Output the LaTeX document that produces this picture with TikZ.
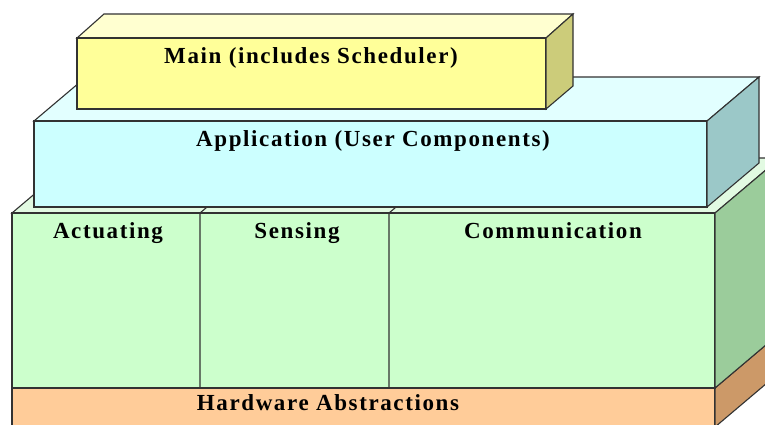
\documentclass[tikz,border=0pt]{standalone}
\usepackage{fontspec}
\newfontfamily\layerfont{Liberation Serif}[LetterSpace=7]

% face colours of the stacked layers
\definecolor{mainfront}{RGB}{255,255,153}
\definecolor{maintop}{RGB}{255,255,208}
\definecolor{mainside}{RGB}{204,204,122}
\definecolor{appfront}{RGB}{204,255,255}
\definecolor{apptop}{RGB}{226,255,255}
\definecolor{appside}{RGB}{155,200,200}
\definecolor{osfront}{RGB}{204,255,204}
\definecolor{ostop}{RGB}{226,250,226}
\definecolor{osside}{RGB}{155,204,155}
\definecolor{hwfront}{RGB}{255,204,153}
\definecolor{hwside}{RGB}{204,153,104}
\definecolor{edge}{RGB}{50,50,50}

\tikzset{
  face/.style={draw=edge, line width=1.1pt, line join=miter},
  layerlabel/.style={anchor=base, inner sep=0pt, text=black,
    font=\layerfont\bfseries\fontsize{23}{27}\selectfont},
}

\begin{document}
\begin{tikzpicture}[x=1pt, y=-1pt]
\clip (0,0) rectangle (765,424);
\fill[white] (0,0) rectangle (765,424);

% ---- bottom slab: hardware abstractions (orange) ----
\filldraw[face, fill=hwfront] (12,388) rectangle (715,427);
\filldraw[face, fill=hwside] (715,388) -- (780,333) -- (780,372) -- (715,427) -- cycle;

% ---- middle block: actuating / sensing / communication (green) ----
\filldraw[face, fill=ostop] (12,213) -- (715,213) -- (780,158) -- (77,158) -- cycle;
\filldraw[face, fill=osfront] (12,213) rectangle (715,388);
\filldraw[face, fill=osside] (715,213) -- (780,158) -- (780,333) -- (715,388) -- cycle;
% column dividers, front and top
\draw[face] (200,388) -- (200,213) -- (265,158);
\draw[face] (389,388) -- (389,213) -- (454,158);

% ---- application block (cyan) ----
\filldraw[face, fill=apptop] (34,121) -- (707,121) -- (759,77) -- (86,77) -- cycle;
\filldraw[face, fill=appfront] (34,121) rectangle (707,207);
\filldraw[face, fill=appside] (707,121) -- (759,77) -- (759,163) -- (707,207) -- cycle;

% ---- main block (yellow) ----
\filldraw[face, fill=maintop] (77,38) -- (546,38) -- (573,14) -- (104,14) -- cycle;
\filldraw[face, fill=mainfront] (77,38) rectangle (546,109);
\filldraw[face, fill=mainside] (546,38) -- (573,14) -- (573,86) -- (546,109) -- cycle;

% ---- labels ----
\node[layerlabel] (mainlbl) at (311,63) {Main (includes Scheduler)};
\node[layerlabel] (applbl) at (373,146) {Application (User Components)};
\node[layerlabel] (actlbl) at (108,238) {Actuating};
\node[layerlabel] (senlbl) at (297,238) {Sensing};
\node[layerlabel] (comlbl) at (553,238) {Communication};
\node[layerlabel] (hwlbl) at (328,410) {Hardware Abstractions};
\end{tikzpicture}
\end{document}
